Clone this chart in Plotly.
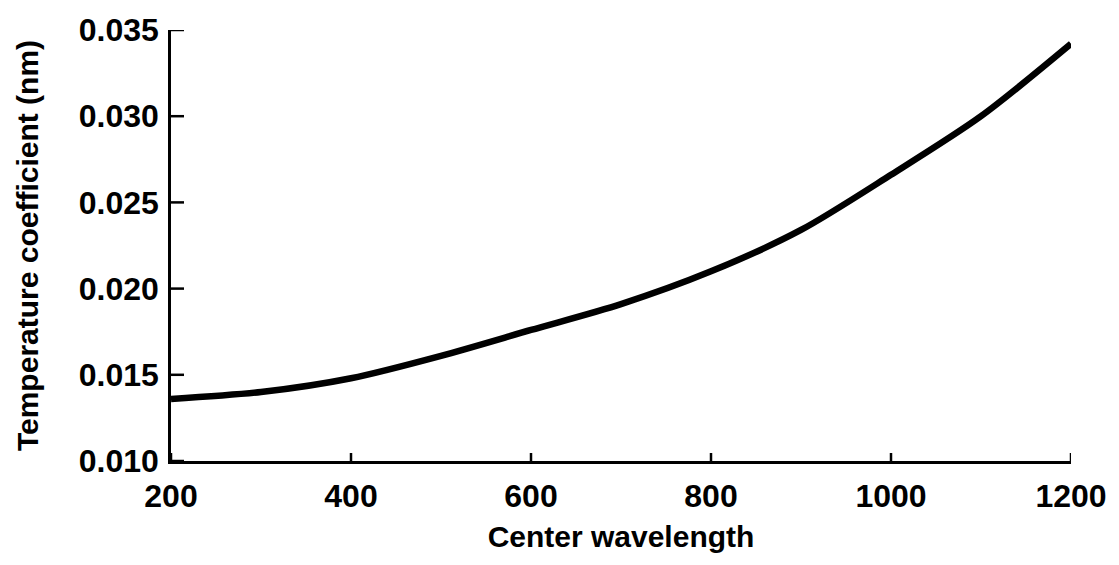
import plotly.graph_objects as go

wavelength = [200, 300, 400, 500, 600, 700, 800, 900, 1000, 1100, 1200]
temp_coeff = [0.0136, 0.0140, 0.0148, 0.0161, 0.0176, 0.0191, 0.0210, 0.0234, 0.0266, 0.0300, 0.0342]

x_ticks = [200, 400, 600, 800, 1000, 1200]
y_ticks = [0.010, 0.015, 0.020, 0.025, 0.030, 0.035]
y_tick_text = ["0.010", "0.015", "0.020", "0.025", "0.030", "0.035"]

font_family = "Liberation Sans, Arial, Helvetica, sans-serif"

fig = go.Figure()
fig.add_trace(go.Scatter(
    x=wavelength, y=temp_coeff, mode="lines",
    line=dict(color="black", width=6.5, shape="spline", smoothing=0.8),
    showlegend=False, cliponaxis=False,
))

# inward-pointing tick marks, placed on the axis scales from the tick arrays
for xv in x_ticks:
    fig.add_shape(type="line", xref="x", yref="y domain", ysizemode="pixel", yanchor=0,
                  x0=xv, x1=xv, y0=0, y1=8, line=dict(color="black", width=2.5))
for yv in y_ticks:
    fig.add_shape(type="line", yref="y", xref="x domain", xsizemode="pixel", xanchor=0,
                  y0=yv, y1=yv, x0=0, x1=13, line=dict(color="black", width=2.5))

fig.update_layout(
    width=1119, height=565,
    margin=dict(l=171, r=48, t=22, b=104),
    paper_bgcolor="white", plot_bgcolor="white",
    font=dict(family=font_family, color="black", weight="bold"),
)
fig.update_xaxes(
    range=[200, 1200], tickmode="array", tickvals=x_ticks, ticktext=[str(v) for v in x_ticks],
    showgrid=False, zeroline=False, showline=True, linecolor="black", linewidth=2.5,
    ticks="", ticklabelstandoff=5,
    tickfont=dict(size=32, family=font_family, weight="bold"),
    title=dict(text="Center wavelength", font=dict(size=30, family=font_family, weight="bold"), standoff=13),
)
fig.update_yaxes(
    range=[0.010, 0.035], tickmode="array", tickvals=y_ticks, ticktext=y_tick_text,
    showgrid=False, zeroline=False, showline=True, linecolor="black", linewidth=2.5,
    ticks="", ticklabelstandoff=3,
    tickfont=dict(size=32, family=font_family, weight="bold"),
    title=dict(text="Temperature coefficient (nm)", font=dict(size=30, family=font_family, weight="bold"), standoff=32),
)

fig.write_html("out.html")
